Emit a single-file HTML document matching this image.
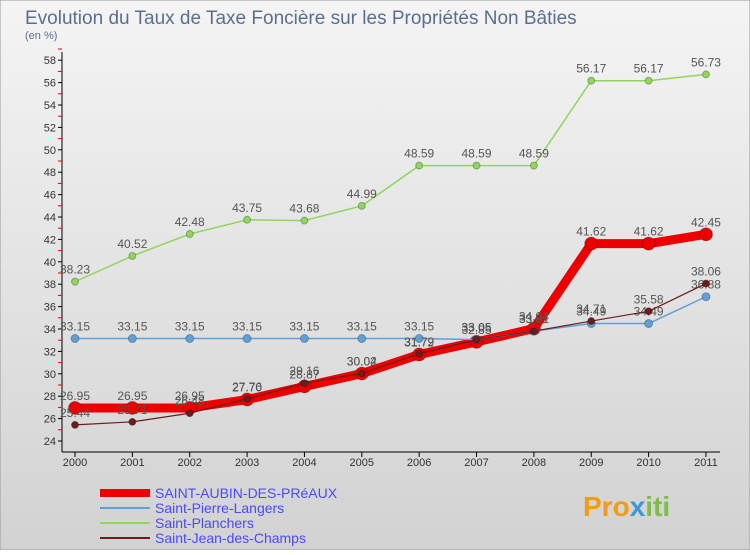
<!DOCTYPE html>
<html><head><meta charset="utf-8"><style>
body{margin:0;width:750px;height:550px;overflow:hidden;font-family:"Liberation Sans",sans-serif}
</style></head><body>
<svg width="750" height="550" xmlns="http://www.w3.org/2000/svg">
<defs><linearGradient id="bg" x1="0" y1="0" x2="0" y2="1"><stop offset="0" stop-color="#f4f4f4"/><stop offset="1" stop-color="#d2d2d2"/></linearGradient></defs>
<rect x="0" y="0" width="750" height="550" fill="url(#bg)" stroke="#999"/>
<text x="25" y="24" font-size="19" fill="#5a6f8f">Evolution du Taux de Taxe Foncière sur les Propriétés Non Bâties</text>
<text x="25" y="39" font-size="11" fill="#5a6f8f">(en %)</text>
<g id="axes"></g><g id="series"></g><g id="legend"></g>
<text x="583" y="516" font-size="28" font-weight="bold" fill="#f39c12">Pro<tspan fill="#3a9ad9">x</tspan><tspan fill="#7bc043">iti</tspan></text>
</svg>
<script>
const years=[2000,2001,2002,2003,2004,2005,2006,2007,2008,2009,2010,2011];
const yTicks=[24,26,28,30,32,34,36,38,40,42,44,46,48,50,52,54,56,58];
const red=[26.95,26.95,26.95,27.7,28.87,30.02,31.72,32.85,34.04,41.62,41.62,42.45];
const blue=[33.15,33.15,33.15,33.15,33.15,33.15,33.15,33.05,33.81,34.49,34.49,36.88];
const green=[38.23,40.52,42.48,43.75,43.68,44.99,48.59,48.59,48.59,56.17,56.17,56.73];
const dark=[25.44,25.71,26.48,27.76,29.16,30.04,31.79,33.05,33.81,34.71,35.58,38.06];
const NS="http://www.w3.org/2000/svg";
const xS=i=>75+i*57.36;
const yS=v=>441-(v-24)*11.2;
function mk(t,a,p){const e=document.createElementNS(NS,t);for(const k in a)e.setAttribute(k,a[k]);p.appendChild(e);return e;}
const ax=document.getElementById('axes');
const ya=mk('line',{x1:62,y1:52,x2:62,y2:452,stroke:'#000'},ax);


const xa=mk('line',{x1:62,y1:452,x2:720,y2:452,stroke:'#000'},ax);


yTicks.forEach(v=>{
 mk('line',{x1:58,y1:yS(v),x2:62,y2:yS(v),stroke:'#000'},ax);
 mk('line',{x1:58,y1:yS(v+1),x2:62,y2:yS(v+1),stroke:'#e00'},ax);
 const t=mk('text',{x:56,y:yS(v)+4,'font-size':11,'text-anchor':'end',fill:'#333'},ax);
 t.textContent=v;
 
 
});
years.forEach((y,i)=>{
 mk('line',{x1:xS(i),y1:452,x2:xS(i),y2:457,stroke:'#000'},ax);
 const t=mk('text',{x:xS(i),y:466,'font-size':11,'text-anchor':'middle',fill:'#333'},ax);
 t.textContent=y;
 
 
});
const sg=document.getElementById('series');
function series(vals,color,w,r,name){
 const g=mk('g',{},sg);
 
 
 mk('polyline',{points:vals.map((v,i)=>xS(i)+','+yS(v)).join(' '),fill:'none',stroke:color,'stroke-width':w,'stroke-linejoin':'round'},g);
 vals.forEach((v,i)=>{
  const c=mk('circle',{cx:xS(i),cy:yS(v),r:r,fill:color,stroke:'#0004'},g);
  
  
  const t=mk('text',{x:xS(i),y:yS(v)-8,'font-size':12,'text-anchor':'middle',fill:'#555'},g);
  t.textContent=v.toFixed(2);
  
  
 });
}
series(green,'#8fd65a',1.5,3.5,'saint-planchers-series');
series(red,'#ee0000',9,6.5,'saint-aubin-series');
series(blue,'#5fa0d8',1.5,4,'saint-pierre-langers-series');
series(dark,'#6b1d1d',1.2,3.5,'saint-jean-series');
const lg=document.getElementById('legend');
[['SAINT-AUBIN-DES-PRéAUX','#ee0000',8],['Saint-Pierre-Langers','#5fa0d8',2],['Saint-Planchers','#8fd65a',2],['Saint-Jean-des-Champs','#6b1d1d',2]].forEach((d,i)=>{
 const y=493+i*15;
 const l=mk('line',{x1:100,y1:y,x2:150,y2:y,stroke:d[1],'stroke-width':d[2]},lg);
 
 
 const t=mk('text',{x:155,y:y+5,'font-size':14,fill:'#4a4aff'},lg);
 t.textContent=d[0];
 
 
});
</script>
</body></html>
